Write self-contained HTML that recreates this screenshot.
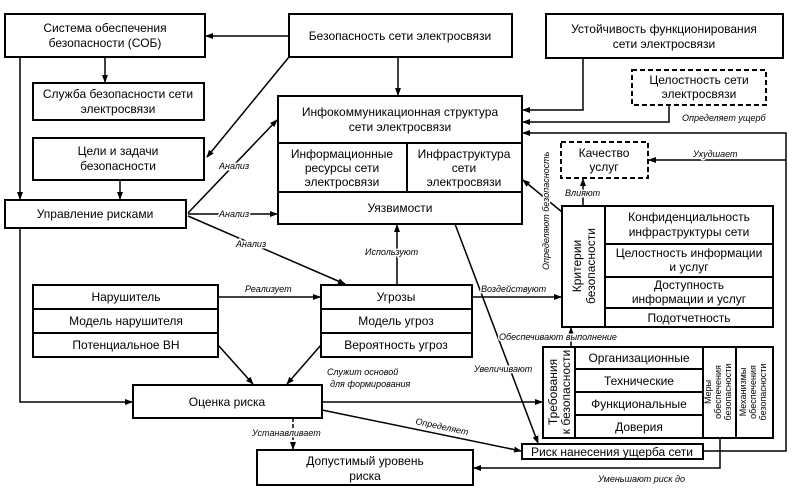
<!DOCTYPE html>
<html><head><meta charset="utf-8"><style>
html,body{margin:0;padding:0;background:#fff;}
svg{display:block;}
text{font-family:"Liberation Sans",sans-serif;fill:#000;}
.t{font-size:12px;text-anchor:middle;}
.s{font-size:10.5px;text-anchor:middle;}
.i text{font-size:9px;font-style:italic;paint-order:stroke;stroke:#fff;stroke-width:3px;}
</style></head><body>
<svg width="792" height="493" viewBox="0 0 792 493" xmlns="http://www.w3.org/2000/svg">
<defs><marker id="a" markerWidth="8" markerHeight="6" refX="7" refY="3" orient="auto" markerUnits="userSpaceOnUse"><path d="M0,0 L8,3 L0,6z" fill="#000"/></marker></defs>
<g fill="none" stroke="#000" stroke-width="2">
<rect x="5" y="14" width="200" height="43"/>
<rect x="289" y="14" width="223" height="43"/>
<rect x="546" y="14" width="237" height="44"/>
<rect x="632" y="70" width="134" height="35" stroke-dasharray="5,3"/>
<rect x="33" y="83" width="171" height="37"/>
<rect x="33" y="138" width="171" height="42"/>
<rect x="5" y="200" width="181" height="28"/>
<rect x="278" y="96" width="244" height="128"/>
<line x1="278" y1="143" x2="522" y2="143"/><line x1="278" y1="192" x2="522" y2="192"/><line x1="407" y1="143" x2="407" y2="192"/>
<rect x="561" y="142" width="87" height="36" stroke-dasharray="5,3"/>
<rect x="562" y="206" width="211" height="121"/>
<line x1="605" y1="206" x2="605" y2="327"/><line x1="605" y1="244" x2="773" y2="244"/><line x1="605" y1="277" x2="773" y2="277"/><line x1="605" y1="308" x2="773" y2="308"/>
<rect x="33" y="285" width="185" height="72"/>
<line x1="33" y1="309" x2="218" y2="309"/><line x1="33" y1="333" x2="218" y2="333"/>
<rect x="321" y="285" width="151" height="72"/>
<line x1="321" y1="309" x2="472" y2="309"/><line x1="321" y1="333" x2="472" y2="333"/>
<rect x="133" y="385" width="189" height="33"/>
<rect x="543" y="347" width="230" height="91"/>
<line x1="575" y1="347" x2="575" y2="438"/><line x1="703" y1="347" x2="703" y2="438"/><line x1="736" y1="347" x2="736" y2="438"/>
<line x1="575" y1="369" x2="703" y2="369"/><line x1="575" y1="392" x2="703" y2="392"/><line x1="575" y1="415" x2="703" y2="415"/>
<rect x="522" y="444" width="181" height="15"/>
<rect x="257" y="450" width="216" height="35"/>
</g>
<g fill="none" stroke="#000" stroke-width="1.5" marker-end="url(#a)">
<line x1="289" y1="36" x2="206" y2="36"/>
<line x1="105" y1="57" x2="105" y2="82"/>
<line x1="20" y1="57" x2="20" y2="199"/>
<line x1="289" y1="57" x2="207" y2="157"/>
<line x1="120" y1="180" x2="120" y2="199"/>
<line x1="398" y1="57" x2="398" y2="95"/>
<line x1="188" y1="213" x2="277" y2="120"/>
<line x1="188" y1="214" x2="277" y2="214"/>
<line x1="188" y1="216" x2="345" y2="284"/>
<polyline points="20,228 20,402 132,402"/>
<polyline points="583,58 583,110 523,110"/>
<polyline points="669,105 669,122 523,122"/>
<polyline points="703,451 786,451 786,133 523,133"/>
<line x1="786" y1="160" x2="649" y2="160"/>
<line x1="583" y1="205" x2="583" y2="179"/>
<line x1="562" y1="212" x2="523" y2="180"/>
<line x1="397" y1="285" x2="397" y2="225"/>
<line x1="472" y1="297" x2="561" y2="297"/>
<line x1="218" y1="297" x2="320" y2="297"/>
<line x1="218" y1="345" x2="253" y2="384"/>
<line x1="321" y1="345" x2="287" y2="384"/>
<line x1="322" y1="402" x2="542" y2="402"/>
<line x1="322" y1="410" x2="521" y2="451"/>
<line x1="293" y1="418" x2="293" y2="449" stroke-dasharray="4,2"/>
<line x1="455" y1="224" x2="538" y2="443"/>
<line x1="571" y1="347" x2="571" y2="328"/>
<polyline points="720,438 720,468 474,468"/>
</g>
<text class="t" x="105" y="32">Система обеспечения</text><text class="t" x="105" y="47">безопасности (СОБ)</text>
<text class="t" x="400" y="40">Безопасность сети электросвязи</text>
<text class="t" x="664" y="33">Устойчивость функционирования</text><text class="t" x="664" y="48">сети электросвязи</text>
<text class="t" x="699" y="84">Целостность сети</text><text class="t" x="699" y="98">электросвязи</text>
<text class="t" x="118" y="98">Служба безопасности сети</text><text class="t" x="118" y="113">электросвязи</text>
<text class="t" x="118" y="155">Цели и задачи</text><text class="t" x="118" y="170">безопасности</text>
<text class="t" x="95" y="218">Управление рисками</text>
<text class="t" x="400" y="116">Инфокоммуникационная структура</text><text class="t" x="400" y="131">сети электросвязи</text>
<text class="t" x="342" y="158">Информационные</text><text class="t" x="342" y="172">ресурсы сети</text><text class="t" x="342" y="186">электросвязи</text>
<text class="t" x="464" y="158">Инфраструктура</text><text class="t" x="464" y="172">сети</text><text class="t" x="464" y="186">электросвязи</text>
<text class="t" x="400" y="212">Уязвимости</text>
<text class="t" x="604" y="157">Качество</text><text class="t" x="604" y="171">услуг</text>
<text class="t" x="689" y="221">Конфиденциальность</text><text class="t" x="689" y="236">инфраструктуры сети</text>
<text class="t" x="689" y="257">Целостность информации</text><text class="t" x="689" y="271">и услуг</text>
<text class="t" x="689" y="289">Доступность</text><text class="t" x="689" y="303">информации и услуг</text>
<text class="t" x="689" y="322">Подотчетность</text>
<text class="t" transform="translate(581,266) rotate(-90)">Критерии</text>
<text class="t" transform="translate(595,266) rotate(-90)">безопасности</text>
<text class="t" x="126" y="301">Нарушитель</text>
<text class="t" x="126" y="325">Модель нарушителя</text>
<text class="t" x="126" y="349">Потенциальное ВН</text>
<text class="t" x="396" y="301">Угрозы</text>
<text class="t" x="396" y="325">Модель угроз</text>
<text class="t" x="396" y="349">Вероятность угроз</text>
<text class="t" x="227" y="406">Оценка риска</text>
<text class="t" x="639" y="362">Организационные</text>
<text class="t" x="639" y="385">Технические</text>
<text class="t" x="639" y="408">Функциональные</text>
<text class="t" x="639" y="431">Доверия</text>
<text class="t" transform="translate(557,392) rotate(-90)">Требования</text>
<text class="t" transform="translate(570,392) rotate(-90)">к безопасности</text>
<text class="s" style="font-size:9px" transform="translate(711,392) rotate(-90)">Меры</text>
<text class="s" style="font-size:9px" transform="translate(721,392) rotate(-90)">обеспечения</text>
<text class="s" style="font-size:9px" transform="translate(731,392) rotate(-90)">безопасности</text>
<text class="s" style="font-size:9px" transform="translate(746,392) rotate(-90)">Механизмы</text>
<text class="s" style="font-size:9px" transform="translate(756,392) rotate(-90)">обеспечения</text>
<text class="s" style="font-size:9px" transform="translate(766,392) rotate(-90)">безопасности</text>
<text class="t" x="612" y="456">Риск нанесения ущерба сети</text>
<text class="t" x="365" y="465">Допустимый уровень</text><text class="t" x="365" y="480">риска</text>
<g class="i">
<text x="219" y="169">Анализ</text>
<text x="219" y="217">Анализ</text>
<text x="236" y="247">Анализ</text>
<text x="245" y="292">Реализует</text>
<text x="365" y="255">Используют</text>
<text x="481" y="292">Воздействуют</text>
<text x="327" y="375">Служит основой</text>
<text x="330" y="387">для формирования</text>
<text x="474" y="372">Увеличивают</text>
<text x="499" y="340">Обеспечивают выполнение</text>
<text x="682" y="121">Определяет ущерб</text>
<text x="693" y="157">Ухудшает</text>
<text x="565" y="196">Влияют</text>
<text x="252" y="436">Устанавливает</text>
<text x="598" y="482">Уменьшают риск до</text>
<text transform="translate(415,424) rotate(12)">Определяет</text>
<text transform="translate(549,270) rotate(-90)">Определяют безопасность</text>
</g>
</svg>
</body></html>
